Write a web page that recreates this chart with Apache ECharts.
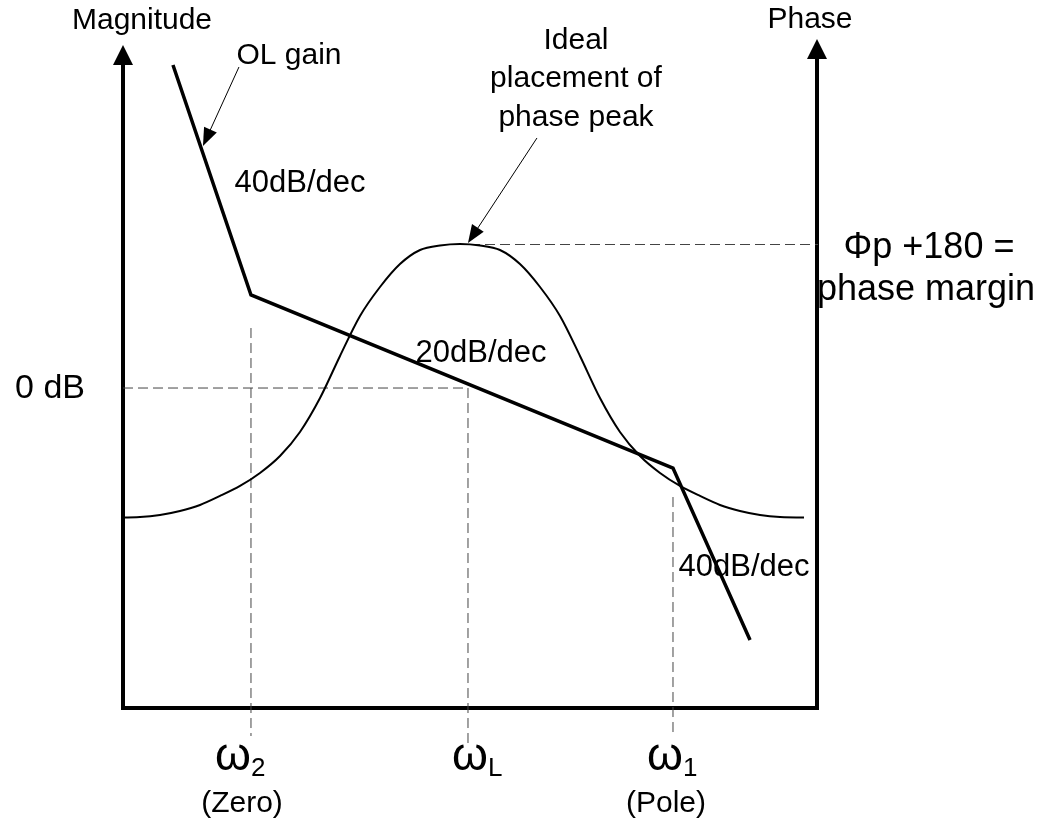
<!DOCTYPE html>
<html>
<head>
<meta charset="utf-8">
<script src="https://cdn.jsdelivr.net/npm/echarts@6/dist/echarts.min.js"></script>
<style>
html,body{margin:0;padding:0;background:#fff;}
#chart{width:1046px;height:820px;}
</style>
</head>
<body>
<div id="chart"></div>
<script>
// ---- Data (arbitrary normalized units: x = log-frequency position 0..100, y = level 0..100) ----
// Open-loop gain asymptote (break points)
const olGainX = [7.2, 18.44, 79.25, 90.35];
const olGainY = [98.47, 63.25, 36.75, 10.41];

// Phase curve (bell-shaped phase boost)
const phaseX = [-1.15, 2.45, 5.33, 8.21, 11.10, 13.98, 16.86, 19.74, 22.62, 25.50, 28.39, 31.27,
                34.15, 37.03, 39.91, 42.80, 45.68, 48.56, 51.44, 54.32, 57.20, 60.09, 62.97,
                65.85, 68.73, 71.61, 74.50, 77.38, 80.26, 83.14, 86.02, 88.90, 91.79, 94.67, 98.13];
const phaseY = [29.17, 29.25, 29.56, 30.17, 31.09, 32.47, 34.00, 35.99, 38.59, 42.27, 47.47, 53.91,
                60.03, 64.47, 67.99, 70.14, 70.83, 71.06, 70.83, 70.14, 67.99, 64.47, 60.03,
                53.91, 47.47, 42.27, 38.59, 35.99, 34.00, 32.47, 31.09, 30.17, 29.56, 29.25, 29.17];

// Frequency markers
const markerNames = ['ω2', 'ωL', 'ω1'];
const markerSub = ['(Zero)', '', '(Pole)'];
const markerX = [18.44, 49.71, 79.25];
const markerTopY = [58.19, 49.0, 32.31];
const markerBottomY = [-4.29, -5.97, -4.13];

// Reference levels
const zeroDbY = 49.0;
const phasePeakY = 70.98;
const phasePeakLineX = [50.0, 102.3];

// Annotation pointers [start, arrow head]
const olArrow = [[16.71, 98.16], [12.06, 87.32]];
const peakArrow = [[59.65, 87.29], [50.42, 72.36]];

const zip = (xs, ys) => xs.map((x, i) => [x, ys[i]]);

const chart = echarts.init(document.getElementById('chart'), null, {renderer: 'canvas'});
const FONT = '"Liberation Sans", Arial, Helvetica, sans-serif';
const dashStyle = {color: '#444', width: 1, type: [10, 5]};

const axisCommon = {
  type: 'value', min: 0, max: 100,
  axisTick: {show: false}, axisLabel: {show: false}, splitLine: {show: false}
};

const dashedSeries = [];
markerX.forEach((x, i) => {
  dashedSeries.push({
    type: 'line', name: 'marker' + i, clip: false, symbol: 'none', silent: true,
    lineStyle: dashStyle, z: 1,
    data: [[x, markerTopY[i]], [x, markerBottomY[i]]]
  });
});
dashedSeries.push({
  type: 'line', name: 'zeroDb', clip: false, symbol: 'none', silent: true, lineStyle: dashStyle, z: 1,
  data: [[0, zeroDbY], [markerX[1], zeroDbY]]
});
dashedSeries.push({
  type: 'line', name: 'peak', clip: false, symbol: 'none', silent: true, lineStyle: dashStyle, z: 1,
  yAxisIndex: 1,
  data: [[phasePeakLineX[0], phasePeakY], [phasePeakLineX[1], phasePeakY]]
});

const arrowMarkLine = (arr) => ({
  silent: true, animation: false,
  symbol: ['none', 'triangle'], symbolSize: [14, 18],
  lineStyle: {color: '#000', width: 1, type: 'solid'},
  itemStyle: {color: '#000'},
  label: {show: false},
  emphasis: {disabled: true},
  data: [[{coord: arr[0]}, {coord: arr[1]}]]
});

chart.setOption({
  animation: false,
  backgroundColor: '#fff',
  grid: {left: 123, right: 229, top: 55, bottom: 112, containLabel: false},
  xAxis: Object.assign({}, axisCommon, {
    axisLine: {show: true, onZero: false, lineStyle: {color: '#000', width: 4, cap: 'square'}}
  }),
  yAxis: [
    Object.assign({}, axisCommon, {
      position: 'left',
      axisLine: {show: true, onZero: false, symbol: ['none', 'triangle'], symbolSize: [20, 20],
        lineStyle: {color: '#000', width: 4, cap: 'square'}}
    }),
    Object.assign({}, axisCommon, {
      position: 'right',
      axisLine: {show: true, onZero: false, symbol: ['none', 'triangle'], symbolSize: [20, 20],
        symbolOffset: [0, 6], lineStyle: {color: '#000', width: 4, cap: 'square'}}
    })
  ],
  series: [
    ...dashedSeries,
    {
      type: 'line', name: 'Phase', yAxisIndex: 1, clip: false, symbol: 'none', silent: true,
      smooth: 0.3,
      lineStyle: {color: '#000', width: 2},
      data: zip(phaseX, phaseY), z: 3,
      markLine: arrowMarkLine(peakArrow)
    },
    {
      type: 'line', name: 'OL gain', clip: false, symbol: 'none', silent: true,
      lineStyle: {color: '#000', width: 3.5, join: 'miter'},
      data: zip(olGainX, olGainY), z: 4,
      markLine: arrowMarkLine(olArrow)
    }
  ]
});

// ---- Text annotations (positioned from data coordinates where tied to data) ----
const px = (x, y, yi) => chart.convertToPixel({xAxisIndex: 0, yAxisIndex: yi || 0}, [x, y]);
const txt = (x, y, text, size, extra) => Object.assign({
  type: 'text', x: x, y: y, z: 100, silent: true,
  style: Object.assign({text: text, fill: '#000', fontSize: size, fontFamily: FONT,
    align: 'center', verticalAlign: 'middle'}, (extra && extra.style) || {})
}, extra && extra.el ? extra.el : {});

const g = [];
g.push(txt(142, 21, 'Magnitude', 30));
g.push(txt(810, 20, 'Phase', 30));
g.push(txt(289, 56, 'OL gain', 30));
g.push(txt(300, 183, '40dB/dec', 31));
g.push(txt(576, 79, 'Ideal\nplacement of\nphase peak', 30, {style: {lineHeight: 38.5}}));
const pk = px(100, phasePeakY, 1);
g.push(txt(929, pk[1] + 4, 'Φp +180 =', 36));
g.push(txt(926, pk[1] + 46, 'phase margin', 36, {el: {z: -1}}));
g.push(txt(481, 353, '20dB/dec', 31));
const zd = px(0, zeroDbY);
g.push(txt(85, zd[1] + 1, '0 dB', 34, {style: {align: 'right'}}));
g.push(txt(744, 567, '40dB/dec', 31));

// Frequency marker labels
markerX.forEach((x, i) => {
  const p = px(x, 0);
  const cx = p[0];
  const omegaX = i === 0 ? cx - 18 : (i === 1 ? cx + 2 : cx - 8);
  g.push(txt(omegaX, 757, 'ω', 46));
  g.push(txt(omegaX + 18, 769, markerNames[i].slice(1), 26, {style: {align: 'left'}}));
  if (markerSub[i]) g.push(txt(i === 0 ? cx - 9 : cx - 7, 804, markerSub[i], 30));
});

chart.setOption({graphic: g});
</script>
</body>
</html>
